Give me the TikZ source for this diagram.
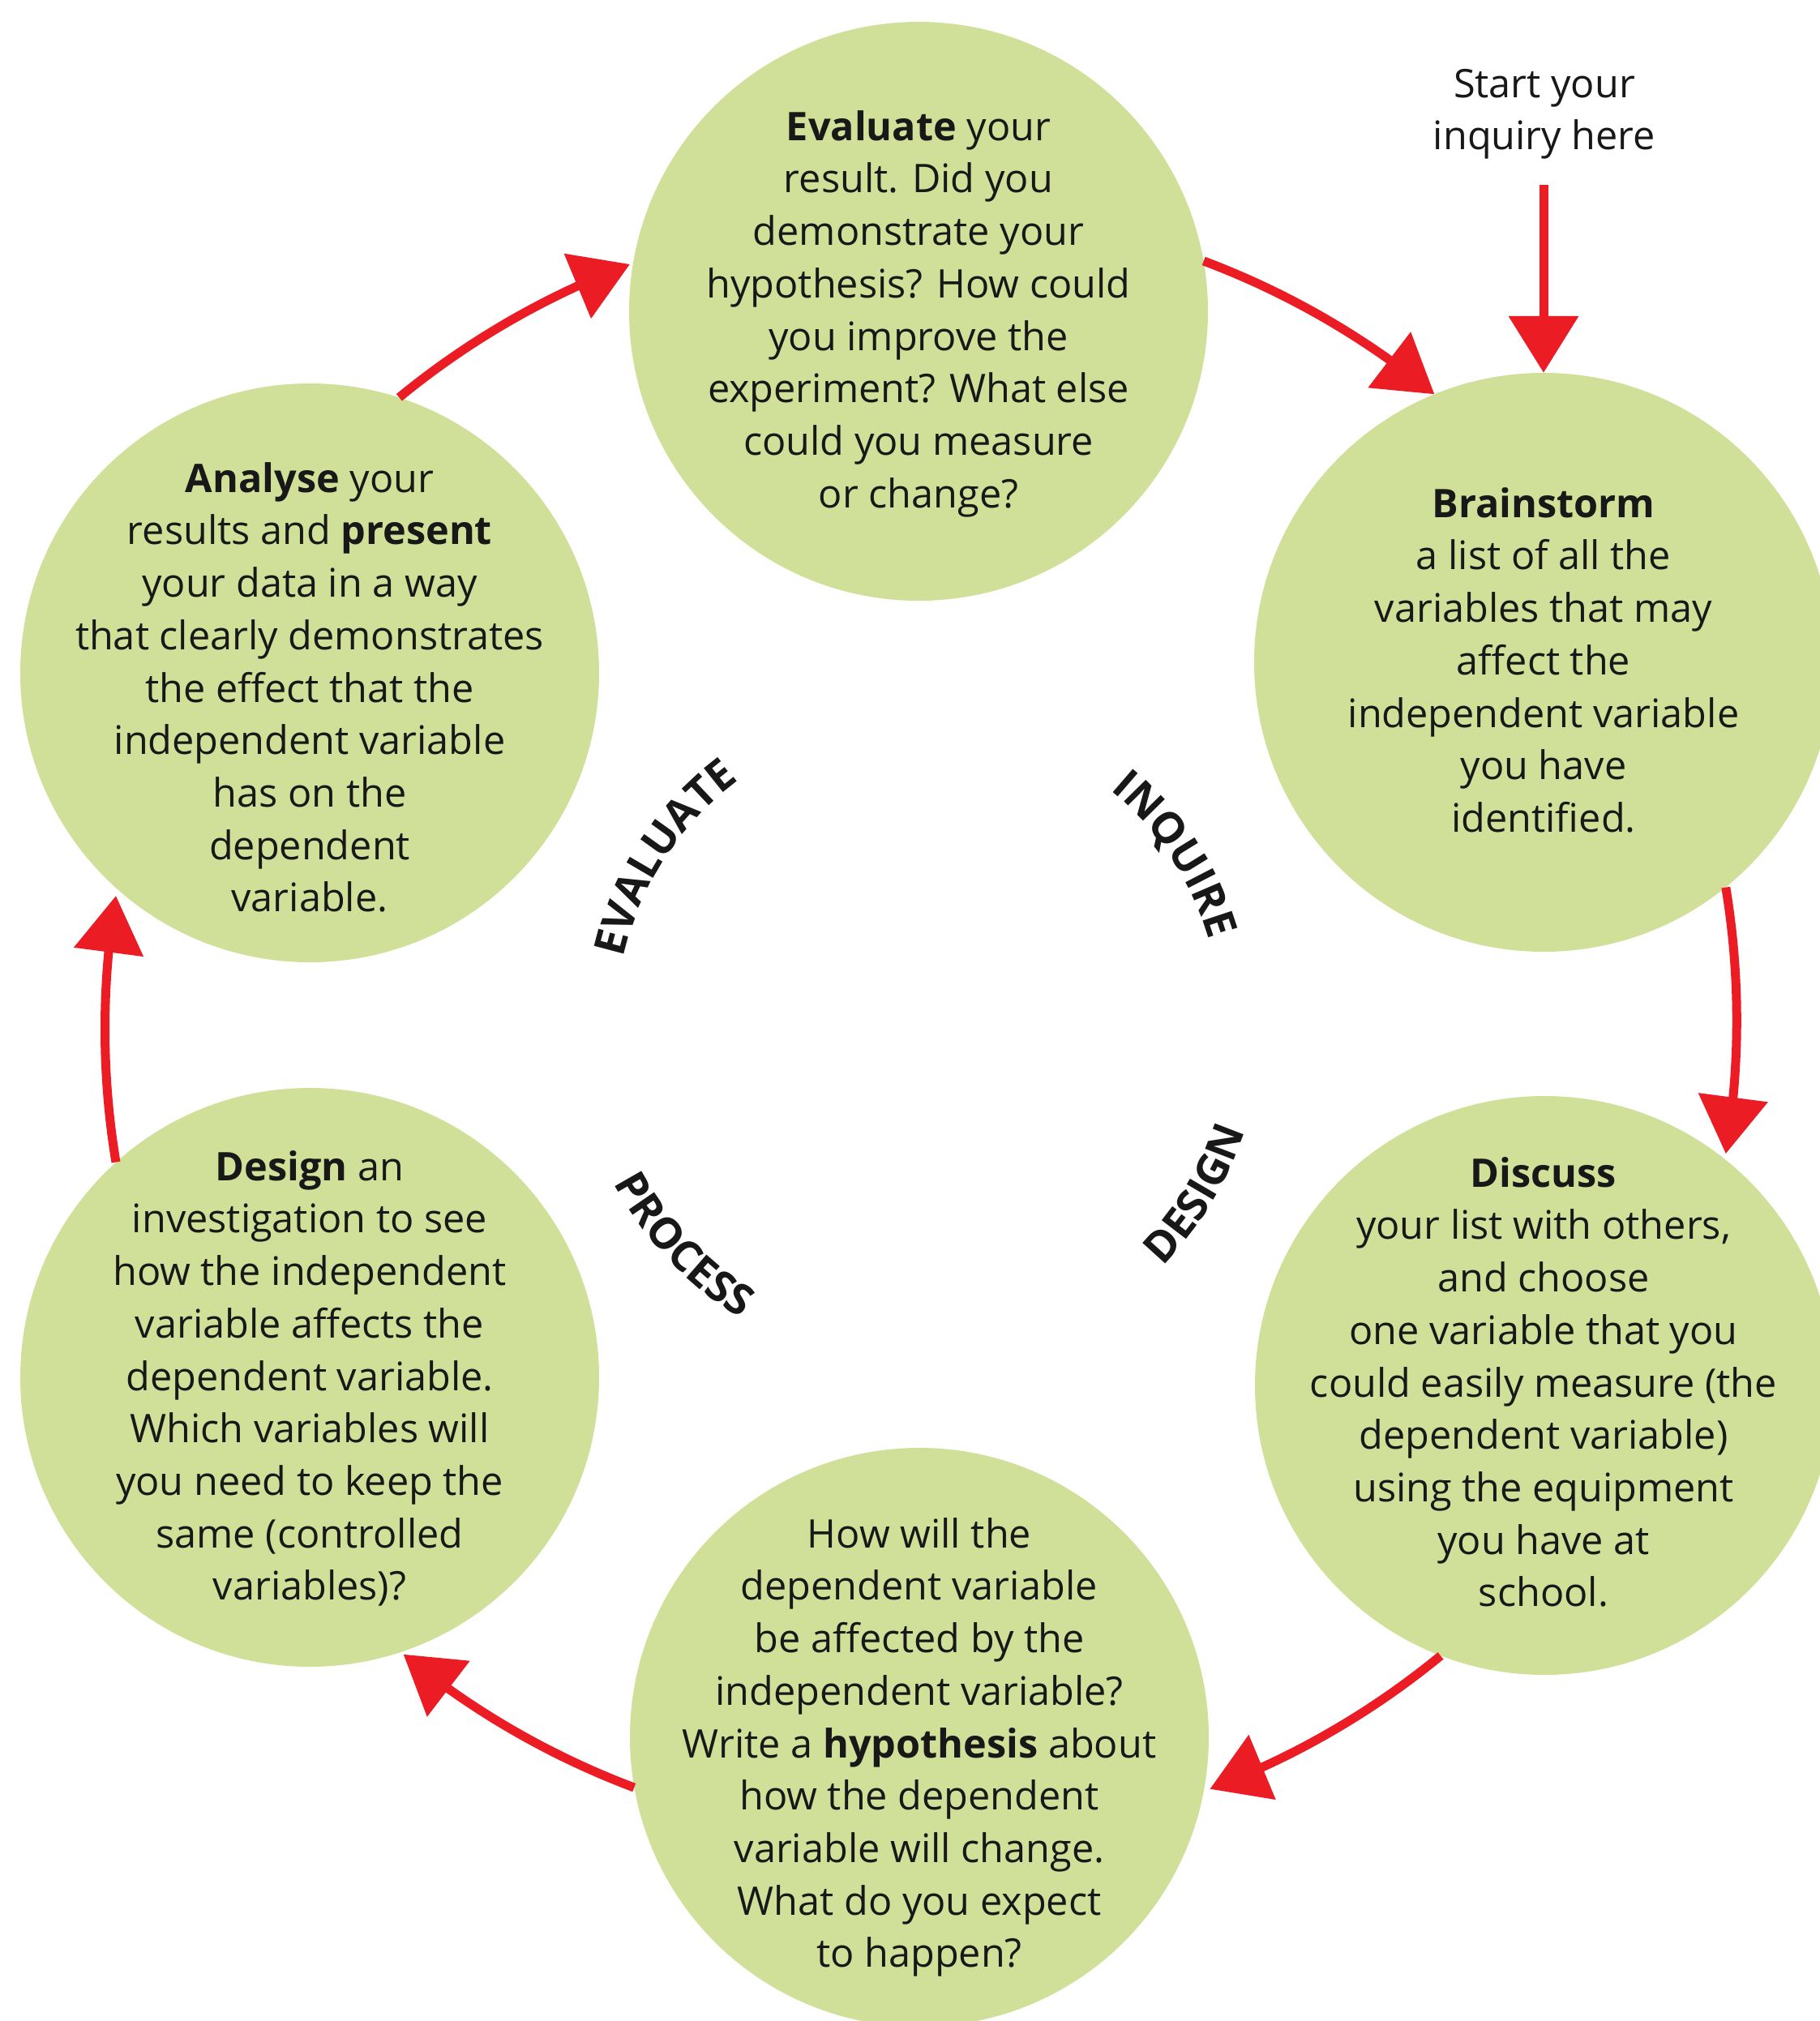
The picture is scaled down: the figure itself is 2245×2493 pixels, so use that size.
\documentclass[tikz,border=0pt]{standalone}
\usepackage{fontspec}
\setmainfont{Open Sans}
\usetikzlibrary{arrows.meta,bending,decorations.text,calc}

\definecolor{leaf}{RGB}{208,224,153}
\definecolor{flowred}{RGB}{236,28,36}
\definecolor{ink}{RGB}{24,24,24}

\newlength\probewidth

\begin{document}
% body size chosen so that the widest line spans 578pt
\settowidth\probewidth{\fontsize{10}{12}\selectfont that clearly demonstrates}
\pgfmathsetmacro\bodysize{10*578/\probewidth}
\newcommand\stagefont{\fontsize{53}{60}\selectfont\bfseries}
\begin{tikzpicture}[x=1pt,y=1pt,
  bubble/.style={circle, fill=leaf, minimum size=714pt, inner sep=0pt},
  blurb/.style={anchor=north, align=center, inner sep=0pt, text=ink,
    font=\fontsize{\bodysize}{64.7}\selectfont},
  flow/.style={draw=flowred, line width=11pt,
    -{Triangle[length=70pt,width=84pt,flex]}},
  stage/.style={decorate, decoration={text along path, text align=center,
    text color=ink, text={|\stagefont|#1}}}]

\useasboundingbox[fill=white] (0,0) rectangle (2245,-2493);
\coordinate (ctr) at (1133,-1263);

% the six stages of the cycle
\node[bubble] (ev) at (1133,-384)  {};
\node[bubble] (br) at (1904,-817)  {};
\node[bubble] (di) at (1905,-1709) {};
\node[bubble] (hy) at (1134,-2143) {};
\node[bubble] (de) at (382,-1699)  {};
\node[bubble] (an) at (382,-830)   {};

% texts inside the bubbles (first baseline 42pt below the top edge)
\node[blurb] (evtext) at (1133,-131) {\rule{0pt}{42pt}\textbf{Evaluate} your\\
  result. Did you\\ demonstrate your\\ hypothesis? How could\\
  you improve the\\ experiment? What else\\ could you measure\\ or change?};
\node[blurb] (brtext) at (1904,-596) {\rule{0pt}{42pt}\textbf{Brainstorm}\\
  a list of all the\\ variables that may\\ affect the\\
  independent variable\\ you have\\ identified.};
\node[blurb] (ditext) at (1904,-1422) {\rule{0pt}{42pt}\textbf{Discuss}\\
  your list with others,\\ and choose\\ one variable that you\\
  could easily measure (the\\ dependent variable)\\ using the equipment\\
  you have at\\ school.};
\node[blurb] (hytext) at (1134,-1867) {\rule{0pt}{42pt}How will the\\
  dependent variable\\ be affected by the\\ independent variable?\\
  Write a \textbf{hypothesis} about\\ how the dependent\\
  variable will change.\\ What do you expect\\ to happen?};
\node[blurb] (detext) at (382,-1414) {\rule{0pt}{42pt}\textbf{Design} an\\
  investigation to see\\ how the independent\\ variable affects the\\
  dependent variable.\\ Which variables will\\ you need to keep the\\
  same (controlled\\ variables)?};
\node[blurb] (antext) at (382,-565) {\rule{0pt}{42pt}\textbf{Analyse} your\\
  results and \textbf{present}\\ your data in a way\\
  that clearly demonstrates\\ the effect that the\\ independent variable\\
  has on the\\ dependent\\ variable.};

% entry point
\node[blurb] (hint) at (1905,-78) {\rule{0pt}{42pt}Start your\\ inquiry here};
\coordinate (inq) at (1904,-228);
\draw[flow] (inq) -- (br.north);

% cycle arrows, all on one circle of radius 1006 round the centre
\draw[flow] (ev.10.3)   arc[start angle=69.4,   end angle=50.6,   radius=1006];
\draw[flow] (br.-51.8)  arc[start angle=9.4,    end angle=-9.4,   radius=1006];
\draw[flow] (di.-111.8) arc[start angle=-50.6,  end angle=-69.4,  radius=1006];
\draw[flow] (hy.190.2)  arc[start angle=-110.6, end angle=-129.4, radius=1006];
\draw[flow] (de.132.1)  arc[start angle=189.4,  end angle=170.6,  radius=1006];
\draw[flow] (an.72)     arc[start angle=129.4,  end angle=110.6,  radius=1006];

% phase names set along arcs round the centre
\path[stage=EVALUATE] ([shift={(186.9:373)}]ctr) arc[start angle=186.9, end angle=106.9, radius=373];
\path[stage=INQUIRE]  ([shift={(73.3:373)}]ctr)  arc[start angle=73.3,  end angle=-6.7,  radius=373];
\path[stage=DESIGN]   ([shift={(-71.5:424)}]ctr) arc[start angle=-71.5, end angle=8.5,   radius=424];
\path[stage=PROCESS]  ([shift={(-176.75:424)}]ctr) arc[start angle=-176.75, end angle=-96.75, radius=424];
\end{tikzpicture}
\end{document}
